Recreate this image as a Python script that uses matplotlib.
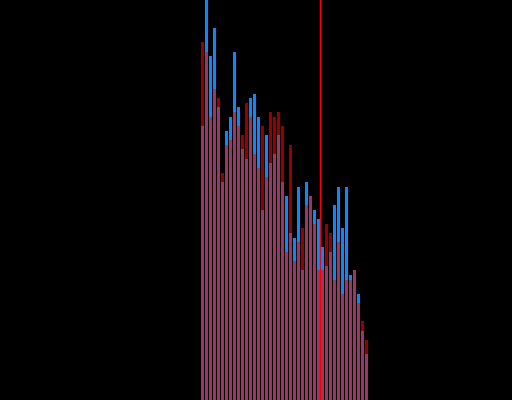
import numpy as np
import matplotlib.pyplot as plt

# bin counts (42 bins)
blue_counts = [274, 404, 344, 372, 293, 218, 269, 283, 348, 293, 251, 241, 302, 306,
               283, 190, 265, 237, 246, 265, 218, 204, 167, 162, 213, 130, 218, 204,
               190, 181, 153, 134, 148, 195, 213, 172, 213, 125, 130, 106, 69, 46]
red_counts = [358, 348, 283, 311, 302, 227, 255, 260, 288, 274, 265, 297, 283, 246,
              232, 274, 223, 288, 283, 288, 274, 148, 255, 139, 158, 172, 195, 204,
              176, 130, 130, 176, 167, 120, 158, 106, 120, 120, 130, 97, 79, 60]
threshold = 29.83

bins = np.arange(len(blue_counts))

fig = plt.figure(figsize=(5.12, 4.0), dpi=100, facecolor='black')
ax = fig.add_axes([0, 0, 1, 1])
ax.set_facecolor('black')

ax.bar(bins, blue_counts, width=0.75, align='edge', color='#0a88ff', linewidth=0)
ax.bar(bins, red_counts, width=0.75, align='edge', color='#ff0000', alpha=0.6, linewidth=0)
ax.axvline(threshold, color='red', linewidth=1)

ax.set_xlim(-50.25, 77.75)
ax.set_ylim(0, 400)
ax.axis('off')

plt.savefig('out.png', dpi=100, facecolor='black')
